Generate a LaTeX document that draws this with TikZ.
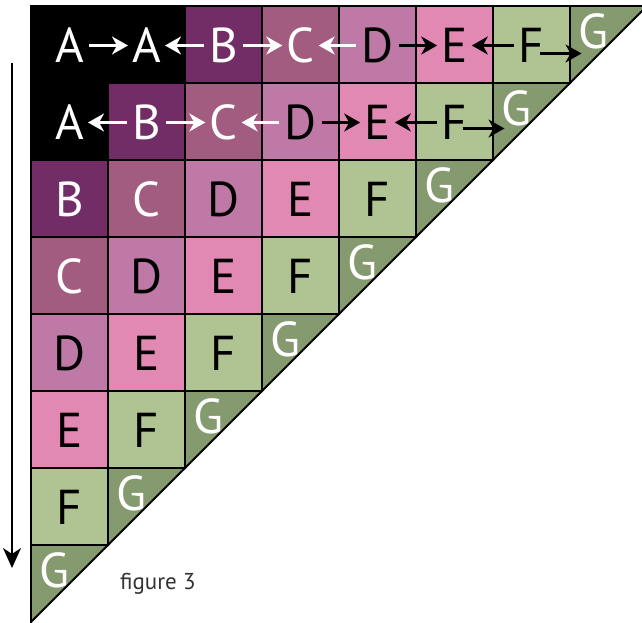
\documentclass[tikz,border=0pt]{standalone}
\usepackage{fontspec}
\setmainfont{PT Sans}
\usetikzlibrary{arrows.meta,calc}
\definecolor{cA}{HTML}{000000}
\definecolor{cB}{HTML}{722D67}
\definecolor{cC}{HTML}{A15C80}
\definecolor{cD}{HTML}{BE79A7}
\definecolor{cE}{HTML}{E188B3}
\definecolor{cF}{HTML}{B0C393}
\definecolor{cG}{HTML}{859A6E}
\definecolor{figtxt}{HTML}{333333}
\tikzset{
  cellbox/.style={draw=black,line width=1.8pt,line join=miter},
  lettxt/.style={inner sep=0pt,font=\fontsize{49}{49}\selectfont},
  letA/.style={lettxt,text=white},
  letB/.style={lettxt,text=white},
  letC/.style={lettxt,text=white},
  letD/.style={lettxt,text=black},
  letE/.style={lettxt,text=black},
  letF/.style={lettxt,text=black},
  letG/.style={lettxt,text=white},
  headtip/.tip={Stealth[length=16pt,width=18pt,inset=5pt]},
  warrow/.style={draw=white,line width=2.2pt,-headtip,shorten <=5pt,shorten >=4pt},
  barrow/.style={draw=black,line width=2.2pt,-headtip,shorten <=5pt,shorten >=4pt},
  fgarrow/.style={draw=black,line width=2.2pt,-headtip},
  sidearrow/.style={draw=black,line width=2.2pt,-{Stealth[length=20pt,width=18pt,inset=6pt]}},
}
% #1 col, #2 row, #3 letter
\newcommand\mycell[3]{%
  \path[cellbox,fill=c#3] ({31+77*(#1-1)},{6+77*(#2-1)}) rectangle +(77,77);
  \node[let#3] (n#2#1) at ({31+77*(#1-1)+38.5},{6+77*(#2-1)+39.5}) {#3};
}
\newcommand\mytri[2]{%
  \path[cellbox,fill=cG] ({31+77*(#1-1)},{6+77*(#2-1)}) -- ++(77,0) -- ++(-77,77) -- cycle;
  \node[letG] (n#2#1) at ({31+77*(#1-1)+23},{6+77*(#2-1)+25}) {G};
}
\begin{document}
\begin{tikzpicture}[x=1pt,y=-1pt]
\useasboundingbox (0,0) rectangle (642,623);
% row 1
\mycell{1}{1}{A}\mycell{2}{1}{A}\mycell{3}{1}{B}\mycell{4}{1}{C}\mycell{5}{1}{D}\mycell{6}{1}{E}\mycell{7}{1}{F}\mytri{8}{1}
% row 2
\mycell{1}{2}{A}\mycell{2}{2}{B}\mycell{3}{2}{C}\mycell{4}{2}{D}\mycell{5}{2}{E}\mycell{6}{2}{F}\mytri{7}{2}
% row 3
\mycell{1}{3}{B}\mycell{2}{3}{C}\mycell{3}{3}{D}\mycell{4}{3}{E}\mycell{5}{3}{F}\mytri{6}{3}
% row 4
\mycell{1}{4}{C}\mycell{2}{4}{D}\mycell{3}{4}{E}\mycell{4}{4}{F}\mytri{5}{4}
% row 5
\mycell{1}{5}{D}\mycell{2}{5}{E}\mycell{3}{5}{F}\mytri{4}{5}
% row 6
\mycell{1}{6}{E}\mycell{2}{6}{F}\mytri{3}{6}
% row 7
\mycell{1}{7}{F}\mytri{2}{7}
% row 8
\mytri{1}{8}
% arrows row 1
\draw[warrow] (n11.east) -- (n12.west);
\draw[warrow] (n13.west) -- (n12.east);
\draw[warrow] (n13.east) -- (n14.west);
\draw[warrow] (n15.west) -- (n14.east);
\draw[barrow] (n15.east) -- (n16.west);
\draw[barrow] (n17.west) -- (n16.east);
\coordinate (f1s) at ($(n17.center)+(8,8)$);
\coordinate (f1e) at ($(n17.center)+(50,8)$);
\draw[fgarrow] (f1s) -- (f1e);
% arrows row 2
\draw[warrow] (n22.west) -- (n21.east);
\draw[warrow] (n22.east) -- (n23.west);
\draw[warrow] (n24.west) -- (n23.east);
\draw[barrow] (n24.east) -- (n25.west);
\draw[barrow] (n26.west) -- (n25.east);
\coordinate (f2s) at ($(n26.center)+(8,6)$);
\coordinate (f2e) at ($(n26.center)+(50,6)$);
\draw[fgarrow] (f2s) -- (f2e);
% side arrow
\coordinate (vtop) at (12,63);
\coordinate (vbot) at (12,568);
\draw[sidearrow] (vtop) -- (vbot);
% caption
\node[text=figtxt,font=\fontsize{23}{23}\selectfont,anchor=base west,inner sep=0pt] (cap) at (120,589) {figure 3};
\end{tikzpicture}
\end{document}
